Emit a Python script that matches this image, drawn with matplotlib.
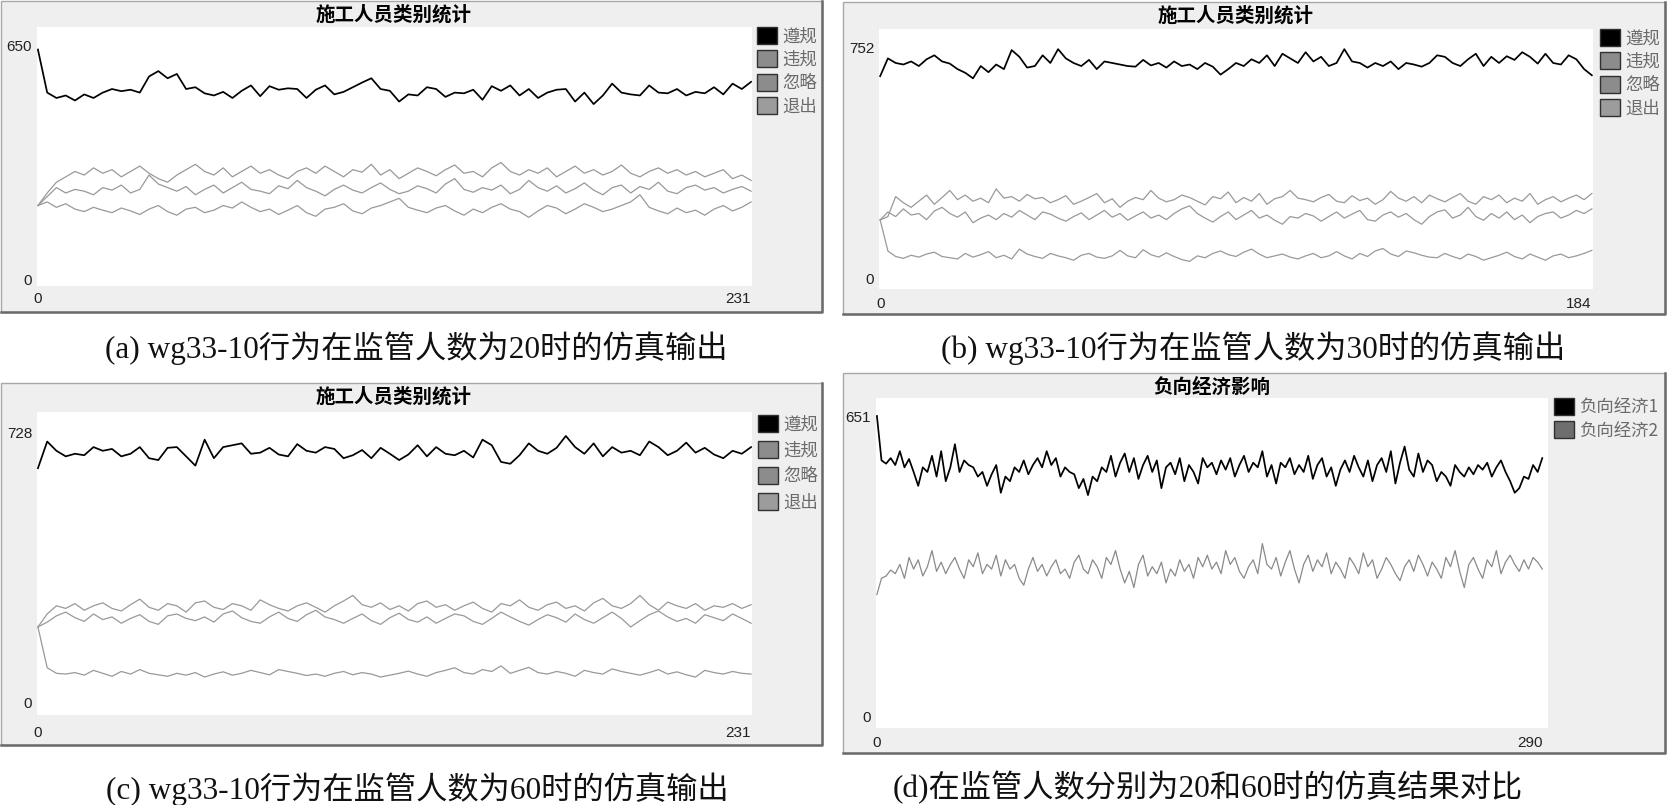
import numpy as np
import matplotlib as mpl
from matplotlib import pyplot as plt
from matplotlib.patches import Rectangle, Patch
from matplotlib.lines import Line2D

mpl.use('Agg')

W, H = 1667, 805
CJK = ['Noto Sans CJK SC', 'DejaVu Sans']
CAPTION_FONT = ['Liberation Serif', 'Noto Sans CJK SC']

LABELS_4 = ['遵规', '违规', '忽略', '退出']
LABELS_2 = ['负向经济1', '负向经济2']
TITLE_ABC = '施工人员类别统计'
TITLE_D = '负向经济影响'
CAPTIONS = [
    '(a) wg33-10行为在监管人数为20时的仿真输出',
    '(b) wg33-10行为在监管人数为30时的仿真输出',
    '(c) wg33-10行为在监管人数为60时的仿真输出',
    '(d)在监管人数分别为20和60时的仿真结果对比',
]

# ---- (a) supervisors = 20, ticks 0..231, y max 650
XMAX_A, YMAX_A = 231, 650
a_comply = [640, 520, 505, 512, 498, 515, 505, 520, 530, 524, 528, 520, 565,
            580, 560, 572, 530, 535, 518, 512, 522, 505, 525, 540, 510, 538,
            528, 532, 530, 505, 528, 540, 515, 522, 535, 548, 560, 530, 525,
            495, 515, 512, 535, 530, 508, 520, 518, 528, 500, 538, 525, 540,
            512, 530, 505, 520, 528, 530, 495, 520, 488, 512, 545, 520, 515,
            512, 540, 520, 518, 530, 512, 522, 518, 535, 515, 545, 530, 550]
a_violate = [205, 240, 270, 285, 300, 290, 310, 295, 305, 285, 300, 315, 295,
             280, 270, 290, 305, 320, 300, 290, 310, 285, 300, 315, 295, 305,
             290, 280, 300, 310, 295, 315, 300, 285, 305, 298, 320, 290, 305,
             280, 295, 310, 300, 288, 305, 318, 295, 300, 285, 310, 325, 300,
             290, 305, 295, 310, 285, 300, 315, 295, 305, 290, 300, 318, 295,
             285, 300, 310, 295, 305, 290, 300, 285, 295, 305, 280, 290, 275]
a_ignore = [205, 230, 255, 240, 250, 245, 235, 255, 248, 262, 240, 250, 290,
            265, 255, 245, 258, 235, 250, 262, 240, 255, 270, 250, 245, 238,
            260, 252, 275, 255, 245, 232, 250, 262, 248, 240, 255, 268, 250,
            238, 245, 260, 252, 240, 265, 280, 250, 242, 255, 248, 262, 238,
            250, 275, 255, 245, 260, 240, 252, 268, 248, 235, 255, 262, 240,
            258, 250, 270, 245, 238, 255, 262, 248, 255, 240, 250, 258, 245]
a_exit = [205, 215, 200, 210, 195, 188, 200, 192, 185, 198, 190, 180, 195,
          205, 188, 178, 195, 200, 185, 192, 205, 198, 215, 200, 188, 195,
          180, 192, 205, 185, 175, 195, 200, 210, 190, 182, 198, 205, 215,
          225, 200, 192, 185, 198, 205, 190, 178, 195, 185, 200, 210, 195,
          188, 172, 190, 205, 198, 182, 195, 210, 200, 188, 195, 205, 215,
          235, 200, 190, 182, 198, 185, 192, 178, 195, 205, 190, 200, 215]

# ---- (b) supervisors = 30, ticks 0..184, y max 752
XMAX_B, YMAX_B = 184, 752
b_comply = [657, 715, 700, 695, 705, 690, 712, 725, 705, 698, 680, 668, 650,
            690, 670, 695, 680, 742, 720, 685, 690, 725, 700, 745, 715, 700,
            690, 710, 680, 705, 700, 695, 690, 688, 710, 692, 700, 685, 705,
            690, 695, 680, 700, 688, 662, 680, 700, 690, 712, 700, 725, 690,
            730, 715, 700, 735, 705, 720, 690, 700, 745, 705, 700, 685, 700,
            690, 705, 680, 700, 695, 688, 700, 725, 720, 700, 690, 712, 730,
            690, 720, 700, 722, 710, 735, 720, 698, 730, 700, 695, 725, 712,
            680, 660]
b_violate = [189, 200, 265, 245, 230, 250, 270, 240, 262, 285, 255, 270, 250,
             260, 245, 290, 260, 265, 250, 272, 258, 262, 245, 255, 268, 240,
             250, 262, 275, 245, 258, 230, 250, 262, 255, 285, 260, 248, 255,
             270, 262, 250, 238, 265, 258, 280, 245, 262, 250, 275, 240, 258,
             265, 285, 260, 255, 248, 262, 272, 250, 245, 268, 252, 260, 240,
             255, 282, 260, 250, 265, 245, 270, 258, 248, 262, 275, 250, 240,
             265, 255, 270, 245, 260, 250, 275, 240, 255, 265, 248, 260, 270,
             255, 275]
b_ignore = [189, 215, 200, 225, 205, 210, 190, 218, 230, 210, 198, 215, 180,
            195, 205, 190, 210, 198, 220, 205, 190, 215, 208, 195, 185, 200,
            212, 190, 205, 220, 198, 210, 188, 202, 215, 195, 205, 190, 210,
            225, 235, 210, 195, 182, 200, 215, 190, 205, 220, 195, 205, 188,
            175, 200, 195, 210, 202, 185, 200, 215, 195, 208, 220, 190, 185,
            205, 215, 198, 210, 190, 175, 200, 215, 222, 195, 205, 230, 200,
            188, 210, 195, 215, 190, 205, 180, 200, 210, 215, 195, 205, 220,
            210, 225]
b_exit = [189, 88, 70, 64, 74, 68, 78, 84, 70, 66, 62, 80, 68, 76, 86, 66, 74,
          62, 94, 78, 70, 64, 80, 72, 66, 58, 74, 80, 68, 64, 72, 90, 72, 66,
          92, 76, 68, 82, 70, 60, 54, 72, 66, 80, 88, 76, 70, 84, 94, 78, 66,
          72, 78, 68, 62, 72, 80, 66, 72, 86, 72, 62, 80, 70, 88, 96, 78, 70,
          88, 82, 74, 68, 66, 80, 70, 62, 78, 70, 58, 66, 74, 84, 70, 62, 78,
          68, 58, 72, 78, 66, 72, 80, 90]

# ---- (c) supervisors = 60, ticks 0..231, y max 728
XMAX_C, YMAX_C = 231, 728
c_comply = [633, 705, 680, 665, 672, 668, 690, 680, 685, 665, 672, 690, 660,
            655, 688, 690, 665, 640, 710, 660, 690, 695, 700, 672, 675, 688,
            670, 665, 698, 680, 675, 690, 685, 660, 668, 682, 660, 688, 672,
            655, 670, 695, 665, 690, 672, 668, 680, 662, 710, 695, 650, 645,
            668, 700, 680, 672, 688, 720, 690, 672, 700, 665, 690, 675, 680,
            668, 705, 690, 668, 680, 702, 675, 688, 670, 660, 680, 672, 690]
c_violate = [205, 240, 262, 255, 268, 250, 262, 270, 255, 248, 265, 280, 258,
             250, 268, 262, 245, 270, 275, 258, 252, 268, 262, 250, 278, 265,
             255, 248, 262, 270, 258, 245, 262, 275, 290, 265, 258, 270, 252,
             262, 248, 268, 275, 258, 265, 250, 262, 272, 255, 245, 268, 262,
             278, 258, 250, 265, 272, 255, 262, 248, 270, 282, 262, 255, 268,
             290, 265, 250, 272, 262, 255, 268, 250, 262, 258, 268, 255, 265]
c_ignore = [205, 218, 235, 245, 230, 220, 240, 225, 232, 215, 228, 238, 220,
            212, 235, 240, 228, 222, 232, 218, 240, 248, 230, 220, 215, 232,
            245, 228, 220, 238, 250, 232, 225, 215, 228, 240, 222, 212, 230,
            242, 225, 218, 232, 215, 228, 240, 235, 220, 212, 228, 245, 232,
            220, 210, 225, 238, 230, 218, 240, 225, 215, 230, 245, 228, 205,
            222, 238, 248, 232, 220, 228, 215, 238, 230, 222, 240, 228, 215]
c_exit = [205, 95, 80, 78, 82, 75, 88, 80, 72, 85, 78, 90, 80, 76, 72, 80, 75,
          82, 70, 78, 84, 75, 80, 88, 82, 76, 90, 85, 80, 74, 78, 72, 80, 85,
          76, 82, 78, 70, 75, 80, 86, 78, 72, 82, 88, 95, 82, 78, 90, 85, 100,
          80, 88, 96, 82, 78, 85, 80, 72, 88, 82, 78, 92, 85, 80, 75, 82, 90,
          78, 84, 76, 70, 88, 82, 78, 85, 80, 78]

# ---- (d) negative economic impact, ticks 0..290, y max 651
XMAX_D, YMAX_D = 290, 651
d_econ1 = [651, 555, 548, 560, 545, 575, 540, 558, 530, 500, 540, 530, 565,
           520, 575, 510, 540, 590, 530, 555, 545, 540, 520, 530, 500, 525,
           545, 485, 520, 510, 540, 530, 555, 525, 545, 560, 540, 575, 545,
           560, 520, 540, 530, 525, 495, 515, 480, 520, 510, 540, 530, 565,
           520, 550, 570, 530, 560, 515, 545, 565, 530, 555, 495, 540, 550,
           525, 560, 510, 545, 530, 505, 560, 540, 550, 525, 555, 535, 560,
           520, 545, 565, 530, 550, 540, 575, 520, 545, 505, 550, 540, 560,
           525, 545, 530, 565, 515, 545, 560, 520, 540, 500, 535, 555, 530,
           565, 540, 520, 555, 510, 545, 560, 530, 575, 505, 550, 585, 535,
           520, 570, 530, 555, 545, 510, 530, 520, 500, 545, 530, 520, 540,
           525, 545, 535, 550, 520, 540, 555, 530, 510, 485, 495, 520, 515,
           545, 530, 560]
d_econ2 = [265, 300, 305, 318, 310, 330, 300, 345, 320, 340, 305, 325, 360,
           315, 335, 310, 330, 345, 320, 300, 340, 325, 355, 310, 330, 320,
           350, 305, 340, 320, 330, 300, 285, 320, 345, 315, 330, 305, 325,
           340, 310, 320, 300, 335, 350, 320, 310, 340, 325, 300, 345, 330,
           360, 320, 290, 315, 280, 330, 350, 305, 325, 310, 335, 290, 320,
           305, 340, 315, 330, 300, 345, 325, 350, 320, 335, 310, 360, 330,
           345, 315, 300, 325, 340, 310, 375, 330, 320, 345, 305, 335, 360,
           320, 290, 330, 350, 315, 340, 325, 355, 310, 335, 320, 300, 345,
           330, 310, 355, 325, 340, 300, 320, 345, 330, 310, 295, 325, 340,
           315, 350, 330, 305, 335, 320, 300, 345, 325, 360, 315, 280, 330,
           345, 320, 300, 340, 325, 360, 310, 335, 350, 330, 315, 340, 320,
           345, 335, 320]

LINE_COLORS_4 = ['#000000', '#999999', '#999999', '#999999']
SWATCH_COLORS_4 = ['#000000', '#8c8c8c', '#8c8c8c', '#9c9c9c']
LINE_COLORS_2 = ['#000000', '#8a8a8a']
SWATCH_COLORS_2 = ['#000000', '#6e6e6e']


def fig_box(x0, y0, x1, y1):
    return [x0 / W, 1 - y1 / H, (x1 - x0) / W, (y1 - y0) / H]


def draw_frame(fig, x0, y0, x1, y1):
    fig.add_artist(Rectangle((x0 / W, 1 - y1 / H), (x1 - x0) / W, (y1 - y0) / H,
                             transform=fig.transFigure, facecolor='#efefef',
                             edgecolor='#a8a8a8', lw=1, zorder=-2))
    # darker shadow on the right and bottom edges
    fig.add_artist(Line2D([x0 / W, x1 / W, x1 / W],
                          [1 - y1 / H, 1 - y1 / H, 1 - y0 / H],
                          transform=fig.transFigure, color='#6a6a6a', lw=1.8,
                          zorder=-1))


def draw_panel(fig, frame, plot, title_xy, title, xmax, ymax, ylim, xpad,
               series, labels, line_colors, swatch_colors, legend_xy,
               leg_spacing, xlabel_pad):
    draw_frame(fig, *frame)
    ax = fig.add_axes(fig_box(*plot))
    ax.set_facecolor('white')
    for sp in ax.spines.values():
        sp.set_visible(False)

    for vals, color in zip(series, line_colors):
        x = np.linspace(0, xmax, len(vals))
        lw = 1.25 if color == '#000000' else 0.9
        ax.plot(x, vals, color=color, lw=lw)

    ax.set_xlim(-xpad[0], xmax + xpad[1])
    ax.set_ylim(*ylim)
    ax.set_xticks([0, xmax])
    ax.set_yticks([0, ymax])
    ax.tick_params(axis='both', length=0, labelsize=11, labelcolor='#222222')
    ax.tick_params(axis='y', pad=3.5)
    ax.tick_params(axis='x', pad=xlabel_pad)
    for lab in ax.get_xticklabels() + ax.get_yticklabels():
        lab.set_fontfamily(['Liberation Sans', 'DejaVu Sans'])
    ax.get_xticklabels()[-1].set_ha('right')

    fig.text(title_xy[0] / W, 1 - title_xy[1] / H, title, ha='center',
             va='center', fontsize=14, fontweight='bold', family=CJK)

    handles = [Patch(facecolor=c, edgecolor='#303030', lw=1) for c in swatch_colors]
    ax.legend(handles, labels, loc='upper left',
              bbox_to_anchor=(legend_xy[0] / W, 1 - legend_xy[1] / H),
              bbox_transform=fig.transFigure, frameon=False,
              prop={'family': CJK, 'size': 12.5}, labelcolor='#6a6a6a',
              handlelength=1.15, handleheight=1.1, handletextpad=0.3,
              labelspacing=leg_spacing, borderaxespad=0, borderpad=0)
    return ax


fig = plt.figure(figsize=(W / 100, H / 100), dpi=100)
fig.patch.set_facecolor('white')

draw_panel(fig, (1, 1, 822, 312), (37, 27, 752, 286), (394, 15), TITLE_ABC,
           XMAX_A, YMAX_A, (-19.5, 703), (0.3, 0.3),
           [a_comply, a_violate, a_ignore, a_exit], LABELS_4,
           LINE_COLORS_4, SWATCH_COLORS_4, (757, 27), 0.3, 4.5)

draw_panel(fig, (843, 2, 1665, 314), (879, 29, 1593, 289), (1236, 16), TITLE_ABC,
           XMAX_B, YMAX_B, (-35.8, 810.6), (0.3, 0.3),
           [b_comply, b_violate, b_ignore, b_exit], LABELS_4,
           LINE_COLORS_4, SWATCH_COLORS_4, (1600, 29), 0.3, 6)

draw_panel(fig, (1, 383, 822, 745), (37, 412, 752, 715), (394, 397), TITLE_ABC,
           XMAX_C, YMAX_C, (-32.4, 784.6), (0.3, 0.3),
           [c_comply, c_violate, c_ignore, c_exit], LABELS_4,
           LINE_COLORS_4, SWATCH_COLORS_4, (758, 415), 0.45, 8)

draw_panel(fig, (843, 373, 1665, 753), (876, 398, 1548, 728), (1212, 387), TITLE_D,
           XMAX_D, YMAX_D, (-23.8, 690), (0.4, 2.5),
           [d_econ1, d_econ2], LABELS_2,
           LINE_COLORS_2, SWATCH_COLORS_2, (1554, 398), 0.3, 6)

caption_xy = [(416, 348), (1253, 348), (417, 789), (1208, 787)]
for (cx, cy), text in zip(caption_xy, CAPTIONS):
    fig.text(cx / W, 1 - cy / H, text, ha='center', va='center',
             fontsize=22.5, family=CAPTION_FONT, color='#111111')

fig.savefig('out.png', dpi=100, facecolor='white')
